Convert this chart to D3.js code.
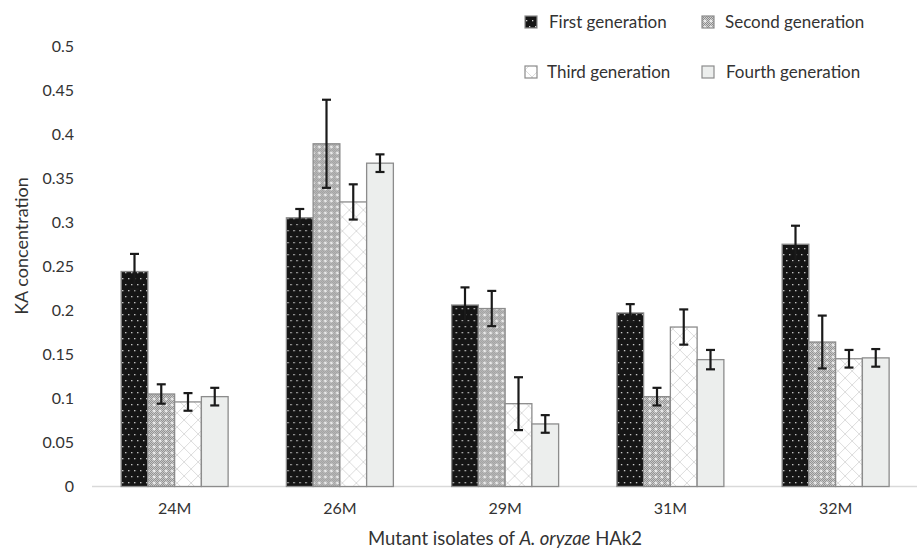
<!DOCTYPE html>
<html><head><meta charset="utf-8">
<script src="https://cdn.jsdelivr.net/npm/d3@7/dist/d3.min.js"></script>
<style>html,body{margin:0;padding:0;background:#fff;} svg{display:block;font-family:Lato, "Open Sans", sans-serif;}</style>
</head><body>
<svg id="chart" width="917" height="549"></svg>
<script>
const categories = ["24M","26M","29M","31M","32M"];
const seriesNames = ["First generation","Second generation","Third generation","Fourth generation"];
const firstGen  = [0.244, 0.305, 0.206, 0.197, 0.275];
const secondGen = [0.105, 0.389, 0.202, 0.102, 0.164];
const thirdGen  = [0.096, 0.323, 0.094, 0.181, 0.145];
const fourthGen = [0.102, 0.367, 0.071, 0.144, 0.146];
const firstErr  = [0.020, 0.010, 0.020, 0.010, 0.021];
const secondErr = [0.011, 0.050, 0.020, 0.010, 0.030];
const thirdErr  = [0.010, 0.020, 0.030, 0.020, 0.010];
const fourthErr = [0.010, 0.010, 0.010, 0.011, 0.010];
const yTicks = [0,0.05,0.1,0.15,0.2,0.25,0.3,0.35,0.4,0.45,0.5];

const values = [firstGen, secondGen, thirdGen, fourthGen];
const errors = [firstErr, secondErr, thirdErr, fourthErr];

const svg = d3.select("#chart");
const textColor = "#333333";

// patterns
const defs = svg.append("defs");
const p1 = defs.append("pattern").attr("id","pat1").attr("patternUnits","userSpaceOnUse").attr("width",6).attr("height",12);
p1.append("rect").attr("width",6).attr("height",12).attr("fill","#151515");
p1.append("rect").attr("x",1).attr("y",2).attr("width",1.3).attr("height",1.3).attr("fill","#d8d8d8");
p1.append("rect").attr("x",4).attr("y",8).attr("width",1.3).attr("height",1.3).attr("fill","#d8d8d8");

const p2 = defs.append("pattern").attr("id","pat2").attr("patternUnits","userSpaceOnUse").attr("width",6).attr("height",6);
p2.append("rect").attr("width",6).attr("height",6).attr("fill","#d0d0d0");
for (let i=0;i<6;i++) for (let j=0;j<6;j++) if ((i+j)%2===0) p2.append("rect").attr("x",i).attr("y",j).attr("width",1).attr("height",1).attr("fill","#8a8a8a");
p2.append("path").attr("d","M3,1.5V4.5M1.5,3H4.5").attr("stroke","#ffffff").attr("stroke-width",1);

const p3 = defs.append("pattern").attr("id","pat3").attr("patternUnits","userSpaceOnUse").attr("width",14).attr("height",14);
p3.append("rect").attr("width",14).attr("height",14).attr("fill","#ffffff");
p3.append("path").attr("d","M0,7 L7,0 M7,14 L14,7 M0,7 L7,14 M7,0 L14,7").attr("stroke","#dcdcdc").attr("stroke-width",1).attr("fill","none");

const fills = ["url(#pat1)","url(#pat2)","url(#pat3)","#eceeed"];

const x0 = d3.scaleBand().domain(categories).range([92, 918.25]).paddingInner(0.3525).paddingOuter(0.3525/2);
const x1 = d3.scaleBand().domain(d3.range(4)).range([0, x0.bandwidth()]).padding(0);
const y = d3.scaleLinear().domain([0,0.5]).range([486.5, 46]);

// baseline axis line
svg.append("line").attr("x1",x0.range()[0]).attr("x2",x0.range()[1]).attr("y1",y(0)).attr("y2",y(0))
  .attr("stroke","#d9d9d9").attr("stroke-width",1.5);

// y axis labels
const yAxis = d3.axisLeft(y).tickValues(yTicks).tickSize(0).tickPadding(0).tickFormat(d => d3.format("")(+d.toFixed(2)));
const yg = svg.append("g").attr("transform","translate(74,0)").call(yAxis);
yg.select(".domain").remove();
yg.selectAll("text").attr("fill",textColor).style("font-size","16px").style("font-family","Lato, 'Open Sans', sans-serif");

// bars
const groups = svg.append("g").selectAll("g").data(categories).join("g")
  .attr("transform", d => `translate(${x0(d)},0)`);
groups.each(function(cat, ci){
  const g = d3.select(this);
  for (let s=0;s<4;s++){
    const v = values[s][ci];
    g.append("rect").attr("x",x1(s)).attr("width",x1.bandwidth()).attr("y",y(v)).attr("height",y(0)-y(v))
      .attr("fill",fills[s]).attr("stroke","#8c8c8c").attr("stroke-width",1.3);
  }
});
groups.each(function(cat, ci){
  const g = d3.select(this);
  for (let s=0;s<4;s++){
    const v = values[s][ci], e = errors[s][ci];
    const cx = x1(s) + x1.bandwidth()/2;
    g.append("line").attr("x1",cx).attr("x2",cx).attr("y1",y(v+e)).attr("y2",y(v-e)).attr("stroke","#1a1a1a").attr("stroke-width",2.2);
    g.append("line").attr("x1",cx-4.5).attr("x2",cx+4.5).attr("y1",y(v+e)).attr("y2",y(v+e)).attr("stroke","#1a1a1a").attr("stroke-width",2.2);
    g.append("line").attr("x1",cx-4.5).attr("x2",cx+4.5).attr("y1",y(v-e)).attr("y2",y(v-e)).attr("stroke","#1a1a1a").attr("stroke-width",2.2);
  }
});

// x axis labels
const xAxis = d3.axisBottom(x0).tickSize(0).tickPadding(0);
const xg = svg.append("g").attr("transform","translate(0,503)").call(xAxis);
xg.select(".domain").remove();
xg.selectAll("text").attr("fill",textColor).style("font-size","16px").style("font-family","Lato, 'Open Sans', sans-serif");

// axis titles
const xt = svg.append("text").attr("x",505).attr("y",545).attr("text-anchor","middle").attr("fill",textColor).style("font-size","18.5px");
xt.append("tspan").text("Mutant isolates of ");
xt.append("tspan").attr("font-style","italic").text("A. oryzae");
xt.append("tspan").text(" HAk2");

svg.append("text").attr("transform","translate(28,246) rotate(-90)").attr("text-anchor","middle").attr("fill",textColor)
  .style("font-size","18px").text("KA concentration");

// legend
const legendPos = [[525,16],[702,16],[525,66],[702,66]];
const legendTextX = [549,725,547,726];
seriesNames.forEach((name,i)=>{
  const [lx,ly] = legendPos[i];
  svg.append("rect").attr("x",lx).attr("y",ly).attr("width",12).attr("height",12)
    .attr("fill",fills[i]).attr("stroke","#8c8c8c").attr("stroke-width",1.2);
  svg.append("text").attr("x",legendTextX[i]).attr("y",ly+6).attr("dy","0.35em").attr("fill",textColor)
    .style("font-size","17px").text(name);
});
</script>
</body></html>
